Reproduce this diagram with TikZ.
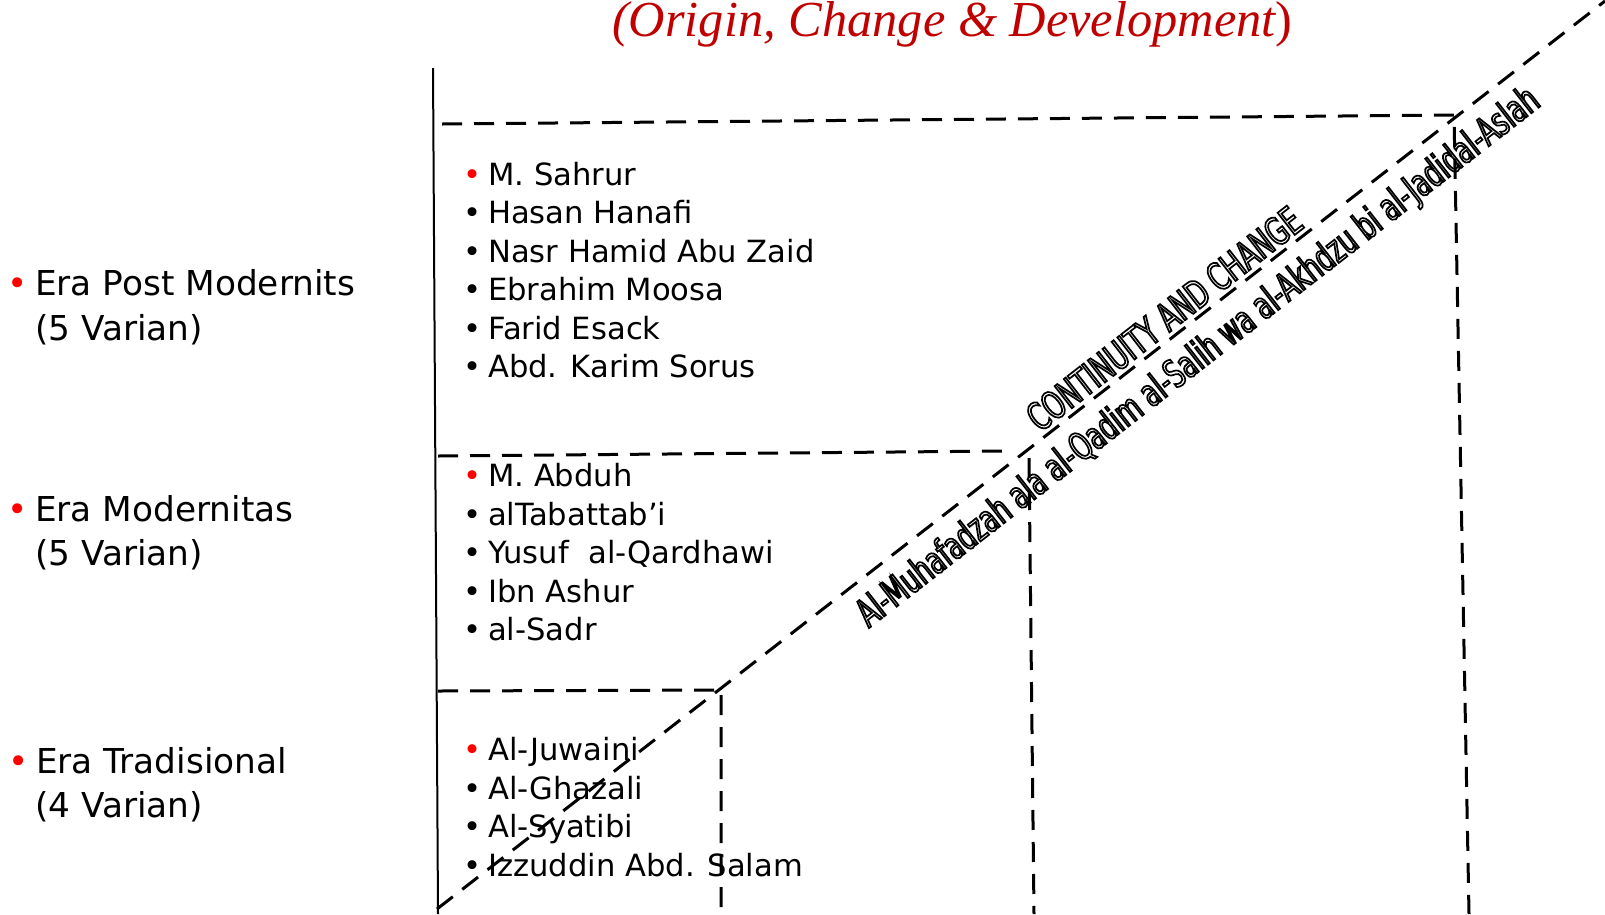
\documentclass[tikz,border=0pt]{standalone}
\usepackage{fontspec}
\setmainfont{DejaVu Sans}
\newfontfamily\titlefont{Liberation Serif}
\newfontfamily\diagfont[FakeStretch=0.66]{DejaVu Sans}
\newfontfamily\mottofont[FakeStretch=0.645]{DejaVu Sans}
\definecolor{titlered}{RGB}{192,0,0}
\definecolor{bulletred}{RGB}{255,0,0}
% hollow (stroked) lettering for the diagonal captions
\newcommand{\hollow}[1]{\special{pdf:literal direct 1 Tr 1.7 w}#1\special{pdf:literal direct 0 Tr}}
% bullet entry: colour, box width, text
\newcommand{\entry}[3]{\makebox[#2][l]{\color{#1}\char"2022}#3}

\tikzset{
  guide/.style={line width=3pt, dash pattern=on 20pt off 12pt},
  axisline/.style={line width=2pt},
  person/.style={anchor=base west, inner sep=0pt, font=\fontsize{30.6}{38.5}\selectfont},
  eralabel/.style={anchor=base west, inner sep=0pt, font=\fontsize{34.3}{41}\selectfont},
  diagcap/.style={inner sep=0pt, font=\diagfont\fontsize{38.4}{40}\selectfont},
  mottocap/.style={inner sep=0pt, font=\mottofont\fontsize{38.4}{40}\selectfont},
}

\begin{document}
\begin{tikzpicture}[x=1pt,y=-1pt]
\useasboundingbox (0,0) rectangle (1605,914);

% title
\node[anchor=base west, inner sep=0pt, text=titlered,
      font=\titlefont\fontsize{50.4}{55}\selectfont] (title) at (612,36)
      {\itshape(Origin, Change \& Development\upshape)};

% frame corners
\coordinate (axtop) at (433,68);
\coordinate (axbot) at (438,914);
\coordinate (tl) at (442,124);
\coordinate (tr) at (1454,115);
\coordinate (rb) at (1469,914);
\coordinate (ml) at (438,456);
\coordinate (mr) at (1008,451);
\coordinate (mvt) at (1029,458);
\coordinate (mvb) at (1034,914);
\coordinate (bl) at (438,691);
\coordinate (br) at (721,690);
\coordinate (bvb) at (721,914);
\coordinate (d0) at (437,909);
\coordinate (d1) at (1605,1);

\draw[axisline] (axtop) -- (axbot);
\draw[guide] (tl) -- (tr) -- (rb);
\draw[guide] (ml) -- (mr);
\draw[guide] (mvt) -- (mvb);
\draw[guide] (bl) -- (br) -- (bvb);
\draw[guide] (d0) -- (d1);

% diagonal captions
\path (d0) -- (d1)
  node[diagcap, pos=0.633, sloped, anchor=south, yshift=5pt] (cc)
    {\hollow{CONTINUITY AND CHANGE}}
  node[mottocap, pos=0.635, sloped, anchor=north, yshift=-14pt] (motto)
    {\hollow{Al-Muhafadzah ala al-Qadim al-Salih wa al-Akhdzu bi al-Jadidal-Aslah}};

% eras
\node[eralabel] (e1) at (7.2,295) {\entry{bulletred}{27.8pt}{Era Post Modernits}};
\node[eralabel] (e1b) at (35,340) {(5 Varian)};
\node[eralabel] (e2) at (7.2,521) {\entry{bulletred}{27.8pt}{Era Modernitas}};
\node[eralabel] (e2b) at (35,565) {(5 Varian)};
\node[eralabel] (e3) at (8.3,773) {\entry{bulletred}{27.7pt}{Era Tradisional}};
\node[eralabel] (e3b) at (35,817) {(4 Varian)};

% post-modern figures
\node[person] (p1) at (463,185) {\entry{bulletred}{25pt}{M. Sahrur}};
\node[person] (p2) at (463,223.5) {\entry{black}{25pt}{Hasan Hanafi}};
\node[person] (p3) at (463,262) {\entry{black}{25pt}{Nasr Hamid Abu Zaid}};
\node[person] (p4) at (463,300.5) {\entry{black}{25pt}{Ebrahim Moosa}};
\node[person] (p5) at (463,339) {\entry{black}{25pt}{Farid Esack}};
\node[person] (p6) at (463,377.5) {\entry{black}{25pt}{Abd. Karim Sorus}};

% modern figures
\node[person] (m1) at (463,486) {\entry{bulletred}{25pt}{M. Abduh}};
\node[person] (m2) at (463,525) {\entry{black}{25pt}{alTabattab'i}};
\node[person] (m3) at (463,563) {\entry{black}{25pt}{Yusuf\ \ al-Qardhawi}};
\node[person] (m4) at (463,602) {\entry{black}{25pt}{Ibn Ashur}};
\node[person] (m5) at (463,640) {\entry{black}{25pt}{al-Sadr}};

% traditional figures
\node[person] (t1) at (463,760) {\entry{bulletred}{25pt}{Al-Juwaini}};
\node[person] (t2) at (463,799) {\entry{black}{25pt}{Al-Ghazali}};
\node[person] (t3) at (463,837) {\entry{black}{25pt}{Al-Syatibi}};
\node[person] (t4) at (463,876) {\entry{black}{25pt}{Izzuddin Abd. Salam}};
\end{tikzpicture}
\end{document}
